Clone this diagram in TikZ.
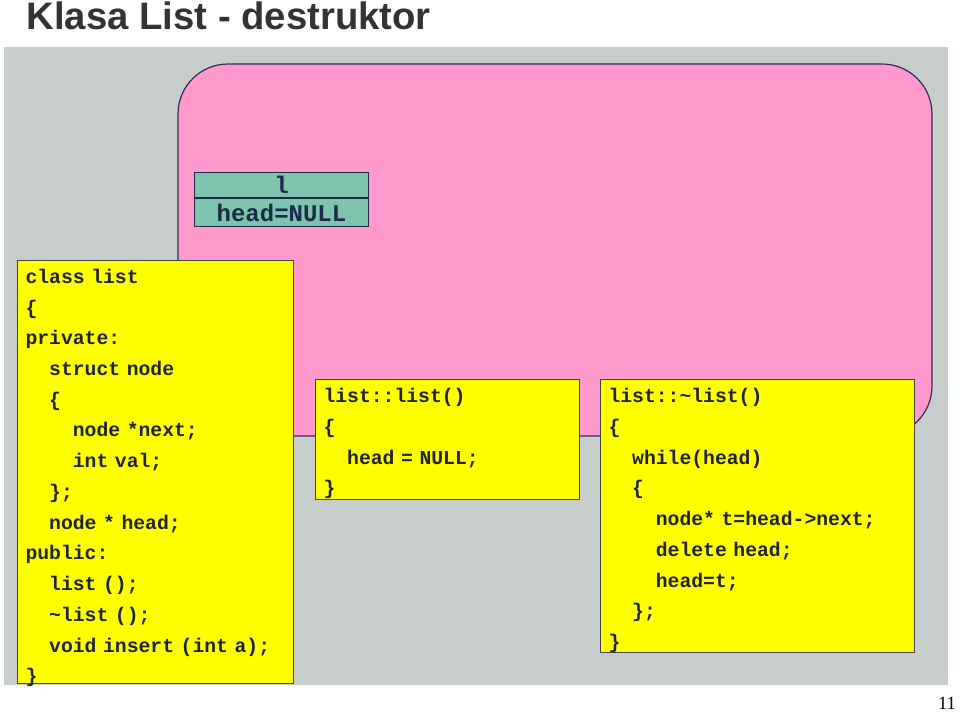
\documentclass[tikz,border=0pt]{standalone}
\usepackage{fontspec}
\setmainfont{Liberation Serif}
\newfontfamily\titlefont{Liberation Sans}
\newfontfamily\codefont{Liberation Mono}[WordSpace={1,0,0}]
\usepackage{tikz}
\usetikzlibrary{positioning}
\definecolor{slidegrey}{HTML}{C6CDCB}
\definecolor{objpink}{HTML}{FF99CC}
\definecolor{objteal}{HTML}{7EC3AE}
\definecolor{codeyellow}{HTML}{FFFF00}
\definecolor{navyline}{HTML}{2E2E5C}
\definecolor{codeink}{HTML}{222222}
\definecolor{tealink}{HTML}{1B2A48}
\newcommand{\ind}{\hspace*{1.2em}}
\newcommand{\topline}[1]{\rule{0pt}{#1}}
\newcommand{\botline}[1]{\raisebox{-#1}{\rule{0pt}{#1}}}

\begin{document}
\begin{tikzpicture}[x=0.75pt,y=-0.75pt,
  codebox/.style={draw=codeink!85,line width=0.75pt,fill=codeyellow,anchor=north west,
    align=left,inner xsep=6pt,inner ysep=0pt,text=codeink,
    font=\codefont\bfseries\fontsize{14.8}{23.05}\selectfont},
  tealcell/.style={draw=tealink,line width=0.75pt,fill=objteal,text=tealink,
    minimum width=130.5pt,inner sep=0pt,font=\codefont\bfseries\fontsize{18}{18}\selectfont}]
\useasboundingbox (0,0) rectangle (960,713);
\clip (0,0) rectangle (960,713);

\node[anchor=base west,text=black!80,font=\titlefont\bfseries\fontsize{28.7}{30}\selectfont] (title) at (22,29.5) {Klasa List - destruktor};

\fill[slidegrey] (4,47) rectangle (948,685);
\draw[navyline,line width=0.9pt,fill=objpink,rounded corners=37.5pt] (178,64) rectangle (932,436);

\node[tealcell,anchor=north west,minimum height=18.75pt] (lname) at (194,172) {l};
\node[tealcell,minimum height=21pt,below=0pt of lname] (lhead) {head=NULL};

\node[codebox,text width=195pt,minimum width=207pt,minimum height=317.25pt] (decl) at (17,260) {%
\topline{17.1pt}class list\\
\{\\
private:\\
\ind struct node\\
\ind \{\\
\ind\ind node *next;\\
\ind\ind int val;\\
\ind \};\\
\ind node * head;\\
public:\\
\ind list ();\\
\ind \textasciitilde list ();\\
\ind void insert (int a);\\
\smash{\}}\botline{0.5pt}};

\node[codebox,text width=186pt,minimum width=198pt,minimum height=90pt] (ctor) at (315,379) {%
\topline{17.4pt}list::list()\\
\{\\
\ind head = NULL;\\
\smash{\}}\botline{3.45pt}};

\node[codebox,text width=223.5pt,minimum width=235.5pt,minimum height=204.75pt] (dtor) at (600,379) {%
\topline{17.4pt}list::\textasciitilde list()\\
\{\\
\ind while(head)\\
\ind \{\\
\ind\ind node* t=head->next;\\
\ind\ind delete head;\\
\ind\ind head=t;\\
\ind \};\\
\smash{\}}\botline{2.95pt}};

\node[anchor=base,font=\fontsize{14}{14}\selectfont] (pageno) at (947,709.5) {11};
\end{tikzpicture}
\end{document}
